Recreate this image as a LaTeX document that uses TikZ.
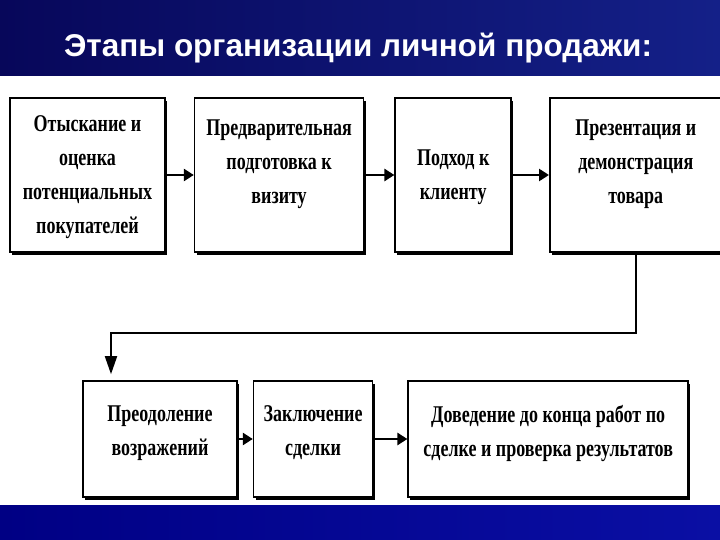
\documentclass[tikz,border=0pt]{standalone}
\usepackage{fontspec}
\setmainfont{Liberation Serif}
\newfontfamily\titlefont{Liberation Sans}
\newfontfamily\stagefont[FakeStretch=0.75]{Liberation Serif}
\usetikzlibrary{arrows.meta,positioning,shadows}
\definecolor{BandDark}{HTML}{07075A}
\definecolor{BandLight}{HTML}{142088}
\definecolor{FootDark}{HTML}{000084}
\definecolor{FootLight}{HTML}{0A0FA4}

\begin{document}
\begin{tikzpicture}[x=1pt,y=-1pt,
  stage/.style={draw,line width=1.6pt,fill=white,align=center,
    font=\stagefont\fontsize{24}{34}\selectfont\bfseries,minimum height=154pt,inner sep=1pt,
    text depth=-8pt,
    drop shadow={shadow xshift=2pt,shadow yshift=-3pt,fill=black,opacity=1}},
  lowstage/.style={stage,minimum height=116pt,text depth=16pt},
  arr/.style={-{Triangle[length=10pt,width=12pt]},line width=2.6pt},
  link/.style={-{Triangle[length=18pt,width=12pt]},line width=1.8pt,shorten >=6pt}
]
  \useasboundingbox (0,0) rectangle (720,540);
  % background bands
  \shade[left color=BandDark,right color=BandLight] (0,0) rectangle (720,76);
  \shade[left color=FootDark,right color=FootLight] (0,505) rectangle (720,540);
  \node[text=white,font=\titlefont\fontsize{31.5}{34}\selectfont\bfseries] (title) at (358,48)
    {Этапы организации личной продажи:};

  % first row
  \node[stage,minimum width=155pt] (search) at (87.5,175)
    {Отыскание и\\оценка\\потенциальных\\покупателей};
  \node[stage,minimum width=169pt,right=28pt of search,text depth=26pt] (prep)
    {Предварительная\\подготовка к\\визиту};
  \node[stage,minimum width=116pt,right=30pt of prep] (approach)
    {Подход к\\клиенту};
  \node[stage,minimum width=172pt,right=37pt of approach,text depth=26pt] (present)
    {Презентация и\\демонстрация\\товара};
  \draw[arr] (search) -- (prep);
  \draw[arr] (prep) -- (approach);
  \draw[arr] (approach) -- (present);

  % second row
  \node[lowstage,minimum width=154pt] (objections) at (160,439)
    {Преодоление\\возражений};
  \node[lowstage,minimum width=119pt,right=15pt of objections] (deal)
    {Заключение\\сделки};
  \node[lowstage,minimum width=280pt,right=34pt of deal] (finish)
    {Доведение до конца работ по\\сделке и проверка результатов};
  \draw[arr] (objections) -- (deal);
  \draw[arr] (deal) -- (finish);

  \coordinate (turn) at (111,333);
  \draw[link] (present.south) |- (turn) -- (turn |- objections.north);
\end{tikzpicture}
\end{document}
